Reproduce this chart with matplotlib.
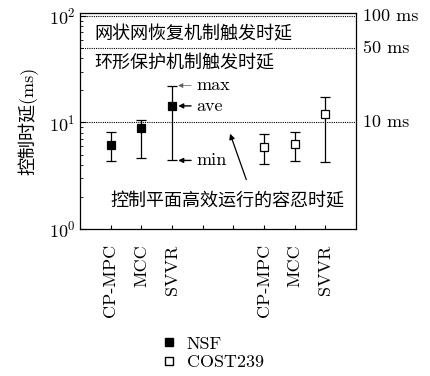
import matplotlib
matplotlib.use('Agg')
import matplotlib.pyplot as plt
from matplotlib.lines import Line2D
from matplotlib.ticker import LogLocator, NullFormatter
import matplotlib.transforms as mtransforms

plt.rcParams['font.family'] = ['cmr10', 'Noto Sans CJK SC']
plt.rcParams['mathtext.fontset'] = 'cm'
plt.rcParams['axes.formatter.use_mathtext'] = True
plt.rcParams['axes.unicode_minus'] = False

# 数据
methods = ['CP-MPC', 'MCC', 'SVVR']
nsf_x = [1, 2, 3]
nsf_ave = [6.2, 8.8, 14.3]
nsf_min = [4.3, 4.6, 4.4]
nsf_max = [8.2, 10.5, 22.2]
cost_x = [6, 7, 8]
cost_ave = [5.9, 6.3, 11.9]
cost_min = [4.1, 4.35, 4.25]
cost_max = [7.85, 8.2, 17.4]
ref_lines = [100, 50, 10]
ref_labels = ['100 ms', '50 ms', '10 ms']

fs = 13
fig = plt.figure(figsize=(4.31, 3.76), dpi=100)
ax = fig.add_axes([0.186, 0.391, 0.640, 0.575])
ax.set_yscale('log')
ax.set_xlim(0, 9)
ax.set_ylim(1, 107)

# 参考虚线
for v, lab in zip(ref_lines, ref_labels):
    ax.axhline(v, color='black', lw=0.8, ls=(0, (1, 1)))
    tr = mtransforms.blended_transform_factory(ax.transAxes, ax.transData)
    ax.text(1.025, v, lab, transform=tr, ha='left', va='center', fontsize=fs)

# 误差棒
def draw(xs, ave, lo, hi, fc):
    err = [[a - l for a, l in zip(ave, lo)], [h - a for a, h in zip(ave, hi)]]
    ax.errorbar(xs, ave, yerr=err, fmt='s', ms=6, mfc=fc, mec='black', mew=0.9,
                ecolor='black', elinewidth=0.9, capsize=3.5, capthick=0.9)

draw(nsf_x, nsf_ave, nsf_min, nsf_max, 'black')
draw(cost_x, cost_ave, cost_min, cost_max, 'white')

# 注释
ax.text(0.46, 68, '网状网恢复机制触发时延', fontsize=fs, va='center', ha='left')
ax.text(0.46, 36, '环形保护机制触发时延', fontsize=fs, va='center', ha='left')
ax.text(4.79, 1.85, '控制平面高效运行的容忍时延', fontsize=fs, va='center', ha='center')
ax.annotate('', xy=(4.86, 8.3), xytext=(5.45, 2.75),
            arrowprops=dict(arrowstyle='-|>', color='black', lw=0.9, mutation_scale=8))
for lab, yv, lw, col in [('max', nsf_max[2], 0.5, '0.35'), ('ave', nsf_ave[2], 1.0, 'black'),
                         ('min', nsf_min[2], 1.0, 'black')]:
    ax.annotate(lab, xy=(3.2, yv), xytext=(3.8, yv), fontsize=fs, va='center', ha='left',
                arrowprops=dict(arrowstyle='-|>', color=col, lw=lw, mutation_scale=7,
                                shrinkA=2, shrinkB=0))

# 坐标轴
ax.set_xticks(range(1, 9))
ax.set_xticklabels(methods + ['', ''] + methods, rotation=90, fontsize=fs)
ax.tick_params(axis='x', direction='in', length=3, pad=11, top=False)
ax.tick_params(axis='y', which='both', direction='in', right=False, labelsize=fs)
ax.tick_params(axis='y', which='major', length=4)
ax.tick_params(axis='y', which='minor', length=2)
ax.yaxis.set_minor_locator(LogLocator(base=10, subs=range(2, 10)))
ax.yaxis.set_minor_formatter(NullFormatter())
ax.set_ylabel('控制时延(ms)', fontsize=fs, labelpad=7)
for s in ax.spines.values():
    s.set_linewidth(0.9)

# 图例
handles = [Line2D([], [], marker='s', ls='none', ms=6, mfc='black', mec='black'),
           Line2D([], [], marker='s', ls='none', ms=6, mfc='white', mec='black')]
fig.legend(handles, ['NSF', 'COST239'], loc='upper left', bbox_to_anchor=(0.35, 0.13),
           frameon=False, fontsize=fs, handlelength=1.0, handletextpad=0.5,
           labelspacing=0.15, borderpad=0)

fig.savefig('out.png', dpi=100)
